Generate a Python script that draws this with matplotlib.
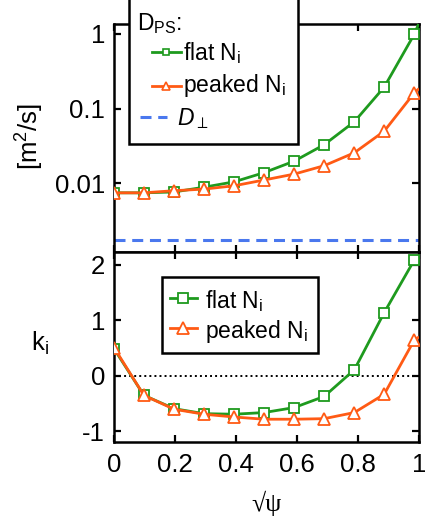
import matplotlib
matplotlib.use("Agg")
import matplotlib.pyplot as plt
from matplotlib.patches import Rectangle
from matplotlib.lines import Line2D
from matplotlib.ticker import FixedLocator, FixedFormatter, NullLocator

plt.rcParams['font.family'] = ['Liberation Sans', 'DejaVu Sans']
plt.rcParams['mathtext.fontset'] = 'custom'
plt.rcParams['mathtext.rm'] = 'Liberation Sans'
plt.rcParams['mathtext.it'] = 'Liberation Sans:italic'
plt.rcParams['mathtext.bf'] = 'Liberation Sans:bold'

# ---- data ----
rho = [0.0, 0.098, 0.197, 0.295, 0.394, 0.492, 0.591, 0.689, 0.788, 0.886, 0.985]
rho_end = 1.0
D_flat = [0.0074, 0.0074, 0.0076, 0.0088, 0.0104, 0.0138, 0.0197, 0.0327, 0.0665, 0.194, 1.0]
D_flat_end = 1.4
D_peak = [0.0074, 0.0074, 0.0079, 0.0083, 0.0092, 0.0110, 0.0132, 0.0171, 0.0255, 0.0497, 0.163]
D_peak_end = 0.185
D_perp = 0.00172
k_flat = [0.49, -0.35, -0.59, -0.68, -0.69, -0.66, -0.57, -0.37, 0.11, 1.14, 2.09]
k_flat_end = 2.12
k_peak = [0.51, -0.35, -0.60, -0.69, -0.74, -0.78, -0.78, -0.77, -0.66, -0.33, 0.65]
k_peak_end = 0.70
xticks = [0, 0.2, 0.4, 0.6, 0.8, 1.0]
xticklabels = ["0", "0.2", "0.4", "0.6", "0.8", "1"]
dticks = [0.01, 0.1, 1]
dticklabels = ["0.01", "0.1", "1"]
kticks = [-1, 0, 1, 2]
kticklabels = ["-1", "0", "1", "2"]

GREEN = '#1e9a1e'
ORANGE = '#ff5a14'
BLUE = '#4a78ee'

W, H = 425, 524
def fx(p):
    return p / W
def fy(p):
    return 1 - p / H

fig = plt.figure(figsize=(W / 100, H / 100), dpi=100)
ax1 = fig.add_axes([fx(114), fy(252), (419 - 114) / W, (252 - 24) / H])
ax2 = fig.add_axes([fx(114), fy(442), (419 - 114) / W, (442 - 252) / H])

LW = 2.0
MS = 6.8
MEW = 1.3

def draw(ax, x, y, yend, color, marker, ms, z):
    ax.plot(list(x) + [rho_end], list(y) + [yend], color=color, lw=LW, zorder=z,
            solid_capstyle='butt')
    ax.plot(x, y, linestyle='none', marker=marker, ms=ms, mfc='white',
            mec=color, mew=MEW, zorder=z + 0.5)

draw(ax1, rho, D_flat, D_flat_end, GREEN, 's', MS, 3)
draw(ax1, rho, D_peak, D_peak_end, ORANGE, '^', MS + 1.2, 4)
ax1.axhline(D_perp, color=BLUE, lw=2.2, dashes=(3.6, 2.2), zorder=2)

draw(ax2, rho, k_flat, k_flat_end, GREEN, 's', MS, 3)
draw(ax2, rho, k_peak, k_peak_end, ORANGE, '^', MS + 1.2, 4)
ax2.axhline(0, color='black', lw=1.4, ls=(0, (1, 1.6)), zorder=1)

for ax in (ax1, ax2):
    ax.set_xlim(0, 1)
    for s in ax.spines.values():
        s.set_linewidth(1.8)
    ax.tick_params(direction='in', top=True, right=True, length=5, width=1.6,
                   labelsize=18.5, pad=6.5)
    ax.xaxis.set_major_locator(FixedLocator(xticks))
    ax.xaxis.set_minor_locator(NullLocator())
    ax.yaxis.set_minor_locator(NullLocator())

ax1.set_yscale('log')
ax1.set_ylim(0.00119, 1.36)
ax1.yaxis.set_major_locator(FixedLocator(dticks))
ax1.yaxis.set_major_formatter(FixedFormatter(dticklabels))
ax1.yaxis.set_minor_locator(NullLocator())
ax1.tick_params(labelbottom=False)

ax2.set_ylim(-1.19, 2.23)
ax2.yaxis.set_major_locator(FixedLocator(kticks))
ax2.yaxis.set_major_formatter(FixedFormatter(kticklabels))
ax2.xaxis.set_major_formatter(FixedFormatter(xticklabels))
ax2.tick_params(axis='x', pad=8)

# axis labels
fig.text(fx(30), fy(137), r'[m$^2$/s]', rotation=90, ha='center', va='center', fontsize=18.5)
fig.text(fx(40), fy(343), r'k$_\mathrm{i}$', ha='center', va='center', fontsize=18.5)
fig.text(fx(267), fy(503), '√ψ', ha='center', va='center', fontsize=18.5,
         family=['Liberation Serif', 'DejaVu Serif'])

# legend 1 (top panel)
fig.add_artist(Rectangle((fx(129), fy(144)), fx(298) - fx(129), fy(-5) - fy(144),
                         transform=fig.transFigure, facecolor='white',
                         edgecolor='black', lw=1.8, zorder=5))
LFS = 16.5
fig.text(fx(137), fy(30), r'D$_\mathrm{PS}$:', fontsize=LFS, va='baseline', zorder=6)
for (yl, yb, col, mk, lab) in [(52, 60, GREEN, 's', r'flat N$_\mathrm{i}$'),
                               (86, 92, ORANGE, '^', r'peaked N$_\mathrm{i}$')]:
    fig.add_artist(Line2D([fx(152), fx(181)], [fy(yl), fy(yl)], color=col, lw=LW,
                          transform=fig.transFigure, zorder=6))
    fig.add_artist(Line2D([fx(166)], [fy(yl)], color=col, marker=mk, ms=5 if mk == 's' else 6,
                          mfc='white', mec=col, mew=1.2, transform=fig.transFigure, zorder=7))
    fig.text(fx(183), fy(yb), lab, fontsize=LFS, va='baseline', zorder=6)
fig.add_artist(Line2D([fx(140), fx(167)], [fy(117), fy(117)], color=BLUE, lw=2.2,
                      dashes=(3.6, 2.2), transform=fig.transFigure, zorder=6))
fig.text(fx(177), fy(125), r'$D_{\perp}$', fontsize=LFS, va='baseline', zorder=6)

# legend 2 (bottom panel)
fig.add_artist(Rectangle((fx(162), fy(353)), fx(318) - fx(162), fy(277) - fy(353),
                         transform=fig.transFigure, facecolor='white',
                         edgecolor='black', lw=1.8, zorder=5))
for (yl, yb, col, mk, lab) in [(298, 308, GREEN, 's', r'flat N$_\mathrm{i}$'),
                               (328, 338, ORANGE, '^', r'peaked N$_\mathrm{i}$')]:
    fig.add_artist(Line2D([fx(170), fx(197)], [fy(yl), fy(yl)], color=col, lw=LW,
                          transform=fig.transFigure, zorder=6))
    fig.add_artist(Line2D([fx(183)], [fy(yl)], color=col, marker=mk,
                          ms=MS if mk == 's' else MS + 1.2,
                          mfc='white', mec=col, mew=MEW, transform=fig.transFigure, zorder=7))
    fig.text(fx(205), fy(yb), lab, fontsize=LFS, va='baseline', zorder=6)

fig.savefig('out.png', dpi=100)
